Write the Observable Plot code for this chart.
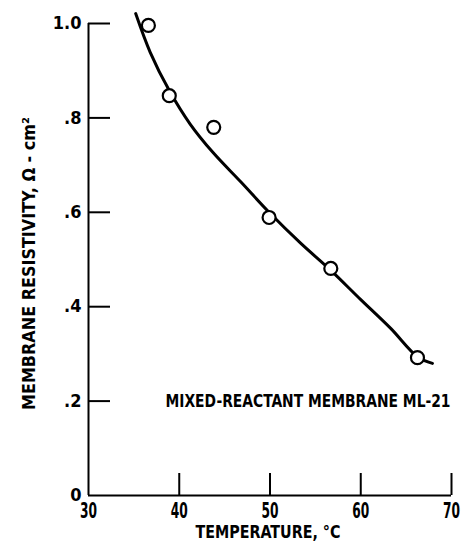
<!DOCTYPE html>
<html><head><meta charset="utf-8">
<script src="https://cdn.jsdelivr.net/npm/d3@7"></script>
<script src="https://cdn.jsdelivr.net/npm/@observablehq/plot@0.6"></script>
<style>body{margin:0;background:#fff} svg{display:block}</style>
</head><body><div id="chart"></div>
<script>
// Measured points (temperature °C, resistivity Ω·cm²)
const pointTemp = [36.6, 38.9, 43.8, 49.9, 56.7, 66.25];
const pointRes  = [0.996, 0.847, 0.780, 0.589, 0.481, 0.292];
// Drawn curve
const curveTemp = [35.2, 36.8, 38.9, 41.2, 43.7, 46.8, 49.9, 53.4, 56.7, 60.0, 63.3, 66.25, 67.9];
const curveRes  = [1.021, 0.939, 0.858, 0.787, 0.727, 0.664, 0.600, 0.534, 0.477, 0.415, 0.354, 0.294, 0.280];
// Axes
const xTicks = [30, 40, 50, 60, 70];
const xTickLabels = ["30", "40", "50", "60", "70"];
const yTicks = [0, 0.2, 0.4, 0.6, 0.8, 1.0];
const yTickLabels = ["0", ".2", ".4", ".6", ".8", "1.0"];
const xTitle = "TEMPERATURE, °C";
const yTitle = "MEMBRANE RESISTIVITY, Ω - cm²";
const noteText = ["MIXED-REACTANT MEMBRANE ML-21"];
const noteTemp = [70];
const noteRes = [0.2];

const points = pointTemp.map((t, i) => ({t, r: pointRes[i]}));
const curve = curveTemp.map((t, i) => ({t, r: curveRes[i]}));
const notes = noteText.map((s, i) => ({s, t: noteTemp[i], r: noteRes[i]}));

const font = "'Liberation Sans Narrow', 'DejaVu Sans Condensed', 'Arial Narrow', sans-serif";

const chart = Plot.plot({
  width: 464, height: 545,
  marginLeft: 88, marginRight: 13, marginTop: 23, marginBottom: 50,
  x: {domain: [30, 70]},
  y: {domain: [0, 1]},
  style: {fontFamily: font, fontWeight: "bold", background: "#fff", color: "#000"},
  marks: [
    Plot.ruleX([30], {stroke: "#000", strokeWidth: 2}),
    Plot.ruleY([0], {stroke: "#000", strokeWidth: 2}),
    Plot.tickY(yTicks.slice(1), {y: d => d, stroke: "#000", strokeWidth: 2, insetRight: 341}),
    Plot.tickX(xTicks.slice(1), {x: d => d, stroke: "#000", strokeWidth: 2, insetTop: 450}),
    Plot.axisY(yTicks, {tickSize: 0, tickPadding: 7, fontSize: 18, label: null,
      tickFormat: d => yTickLabels[yTicks.indexOf(d)]}),
    Plot.axisX(xTicks, {tickSize: 0, tickPadding: 8, fontSize: 21, label: null,
      tickFormat: d => xTickLabels[xTicks.indexOf(d)]}),
    Plot.line(curve, {x: "t", y: "r", curve: "catmull-rom", stroke: "#000", strokeWidth: 3}),
    Plot.dot(points, {x: "t", y: "r", r: 6.5, fill: "#fff", stroke: "#000", strokeWidth: 2.2}),
    Plot.text(notes, {x: "t", y: "r", text: "s", textAnchor: "end", dx: -1, fontSize: 18}),
    Plot.text([yTitle], {frameAnchor: "left", rotate: -90, textAnchor: "middle", lineAnchor: "middle", dx: -59, dy: 4, fontSize: 17}),
    Plot.text([xTitle], {frameAnchor: "bottom", textAnchor: "middle", lineAnchor: "middle", dx: -2, dy: 37, fontSize: 18})
  ]
});

// Condense lettering to match the narrow stencil type of the original
const fitWidths = new Map([[noteText[0], 285], [yTitle, 293], [xTitle, 145]]);
d3.select(chart).selectAll("text").each(function() {
  const w = fitWidths.get(this.textContent);
  if (w) d3.select(this).attr("textLength", w).attr("lengthAdjust", "spacingAndGlyphs");
});
d3.select(chart).selectAll('g[aria-label="x-axis tick label"] text')
  .attr("textLength", 17).attr("lengthAdjust", "spacingAndGlyphs");
document.getElementById("chart").append(chart);
</script>
</body></html>
